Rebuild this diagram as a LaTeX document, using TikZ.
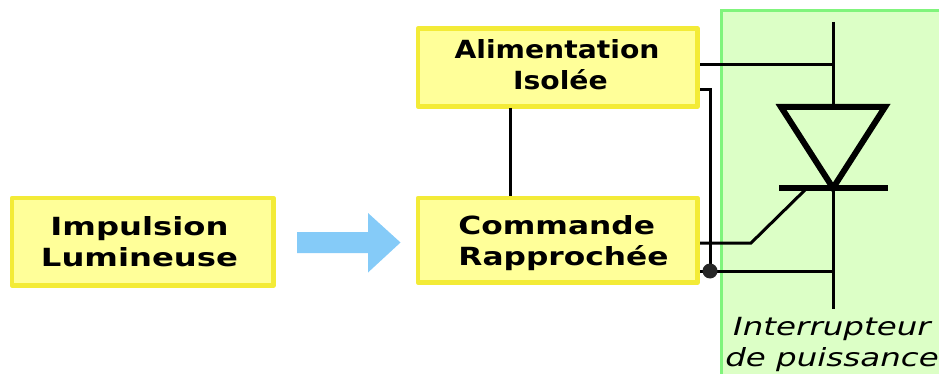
\documentclass[tikz,border=0pt]{standalone}
\usepackage{fontspec}
\setmainfont{DejaVu Sans}
\usetikzlibrary{calc}
\definecolor{boxfill}{HTML}{FFFF99}
\definecolor{boxline}{HTML}{F3EB37}
\definecolor{greenfill}{HTML}{DCFFC6}
\definecolor{greenline}{HTML}{80F47C}
\definecolor{arrowblue}{HTML}{85CBF8}
\tikzset{
  x=1pt,y=-1pt,
  yellowbox/.style={draw=boxline,fill=boxfill,line width=4.5pt,line join=round},
  boxtext/.style={align=center,font=\fontsize{25}{31}\selectfont\bfseries,xscale=1.29,text=black},
  wire/.style={draw=black,line width=3pt},
  heavy/.style={draw=black,line width=6pt},
}
\begin{document}
\begin{tikzpicture}
\useasboundingbox (0,0) rectangle (939,374);
% power switch panel
\path[fill=greenfill,draw=greenline,line width=3.5pt] (721.5,10.5) rectangle (945,380);
% boxes
\path[yellowbox] (12,198) rectangle (273.5,285.5);
\path[yellowbox] (418,28.5) rectangle (697.5,106.5);
\path[yellowbox] (418,198) rectangle (697.5,282.5);
\coordinate (A1) at (700,65);
\coordinate (A2) at (700,90);
\coordinate (AB) at (510,108);
\coordinate (CT) at (510,196);
\coordinate (C1) at (700,243);
\coordinate (C2) at (700,271);
\coordinate (D) at (710,271);
\coordinate (K1) at (833,22);
\coordinate (K2) at (833,106);
\coordinate (K3) at (833,188);
\coordinate (K4) at (833,309);
\node[boxtext] (imp) at (139.5,242) {Impulsion\\Lumineuse};
\node[boxtext,xscale=0.875] (ali) at (557,65) {Alimentation\\\hspace*{6pt}Isolée};
\node[boxtext,align=left,xscale=0.97] (com) at (563.5,243.5) {Commande\\Rapprochée};
\node[align=center,font=\fontsize{25}{31}\selectfont\itshape,xscale=1.30] (lab) at (832,344.5) {Interrupteur\\de puissance};
% arrow
\path[fill=arrowblue] (297,232) -- (368,232) -- (368,213) -- (400.5,242.5) -- (368,272.5) -- (368,253) -- (297,253) -- cycle;
% wires
\draw[wire] (AB) -- (CT);
\draw[wire] (K1) -- (K2);
\draw[wire] (K3) -- (K4);
\draw[wire] (A1) -- (K1 |- A1);
\draw[wire] (C2) -- (K1 |- C2);
\draw[wire] (C1) -- (751,243) -- (806,189);
\draw[wire,line join=miter] (A2) -- (D |- A2) -- (D);
\fill[black!85] (D) circle (7.5);
% thyristor
\draw[heavy,miter limit=10] (781,107) -- (885,107) -- (K3) -- cycle;
\draw[heavy] (779,188) -- (888,188);
\end{tikzpicture}
\end{document}
